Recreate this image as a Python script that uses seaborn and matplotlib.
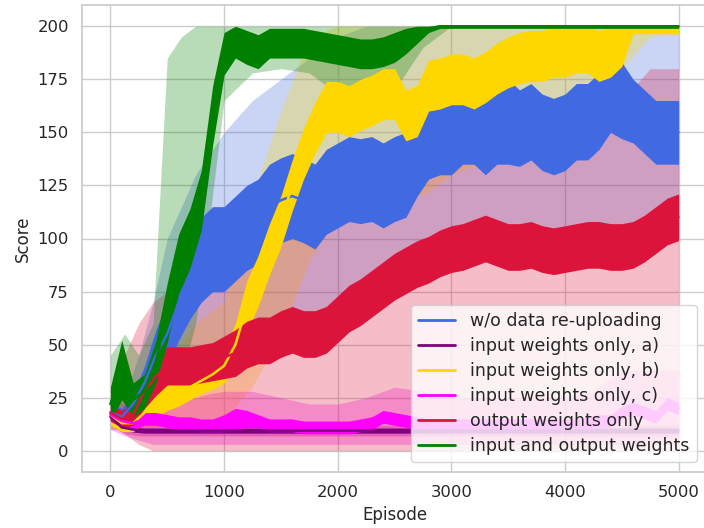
import numpy as np
import matplotlib
matplotlib.use("Agg")
import matplotlib.pyplot as plt
import seaborn as sns

# ---------------- data ----------------
episodes = list(range(0, 5001, 100))          # 51 points for the mean curves
band_episodes = [0, 125, 250, 375, 500, 625, 750, 875, 1000, 1250, 1500, 1750, 2000,
                 2250, 2500, 2750, 3000, 3250, 3500, 3750, 4000, 4250, 4500, 4750, 5000]

labels = ["w/o data re-uploading", "input weights only, a)", "input weights only, b)",
          "input weights only, c)", "output weights only", "input and output weights"]

blue_mean = [18, 16, 22, 32, 45, 55, 70, 82, 90, 95, 95, 100, 105, 108, 115, 118, 120, 118, 115, 122,
             125, 128, 127, 128, 125, 128, 130, 140, 148, 150, 150, 155, 155, 150, 155, 155, 152, 155, 150, 148,
             150, 155, 155, 160, 168, 165, 160, 155, 150, 150, 150]
purple_mean = [16, 11, 10] + [9.5] * 48
yellow_mean = [17, 13, 13, 18, 22, 25, 27, 30, 33, 36, 40, 50, 68, 80, 95, 108, 125, 140, 152, 162,
               162, 160, 163, 165, 168, 168, 158, 160, 172, 173, 175, 175, 173, 176, 180, 183, 185, 186, 186, 188,
               188, 190, 190, 186, 188, 193, 198, 198, 198, 198, 198]
magenta_mean = [17, 14, 13, 15, 15, 14, 13, 13, 12, 12, 13, 15, 15, 14, 12, 12, 12, 11, 11, 11,
                11, 11, 12, 13, 16, 15, 14, 13, 12, 12, 12, 12, 12, 12, 12, 12, 12, 12, 12, 12,
                12, 12, 13, 14, 14, 18, 20, 18, 16, 22, 20]
red_mean = [18, 15, 17, 28, 35, 40, 40, 40, 41, 42, 44, 46, 50, 52, 52, 55, 57, 55, 55, 57,
            62, 67, 70, 74, 78, 82, 85, 88, 90, 93, 95, 96, 98, 100, 98, 96, 96, 97, 95, 94,
            95, 96, 97, 97, 96, 96, 97, 100, 104, 108, 110]
green_mean = [22, 38, 24, 28, 42, 65, 88, 100, 118, 158, 187, 193, 190, 188, 192, 192, 192, 192, 191, 190,
              189, 188, 187, 187, 188, 190, 193, 196, 199, 200] + [200] * 21

# half-width of the episode-to-episode noise around each mean curve
blue_noise = [4, 4, 5, 8, 12, 15, 18, 20, 20, 20, 20] + [20] * 25 + [18] * 10 + [15] * 5
purple_noise = [1.2] * 51
yellow_noise = [5, 4, 4, 5, 6, 6, 6, 6, 6, 7, 8, 10, 12, 12, 12, 12, 12, 12, 12, 12] + [12] * 26 + [1.5] * 5
magenta_noise = [3, 3, 3, 3, 3, 3, 3, 3, 3, 3, 4, 5, 4, 3, 3, 3, 3, 3, 3, 3] + [3] * 31
red_noise = [4, 4, 5, 8, 9, 9, 9, 9, 9, 9, 10] + [11] * 40
green_noise = [8, 14, 8, 8, 10, 14, 14, 14, 14, 14, 10, 8, 8, 8, 7, 7, 7, 7, 7, 7,
               7, 7, 7, 7, 7, 7, 6, 4, 2, 1] + [1] * 21

# shaded spread across runs (lower / upper), on band_episodes
blue_lo = [10, 10, 12, 15, 20, 28, 35, 40, 45, 55, 60, 65, 70, 75, 80, 90, 95, 100, 100, 100, 100, 105, 105, 100, 100]
blue_hi = [25, 25, 45, 70, 100, 115, 130, 140, 150, 165, 175, 185, 195] + [200] * 12
purple_lo = [12, 8] + [7] * 23
purple_hi = [20, 15] + [12] * 23
yellow_lo = [10, 10, 10, 11, 12, 13, 15, 15, 15, 30, 55, 90, 110, 120, 125, 120, 130, 135, 140, 145, 150, 150, 180, 195, 196]
yellow_hi = [25, 25, 25, 32, 40, 50, 60, 65, 70, 120, 160, 195] + [200] * 13
magenta_lo = [10, 7, 5] + [3] * 22
magenta_hi = [25, 22, 22, 24, 25, 25, 25, 27, 28, 28, 25, 22, 22, 25, 30, 28, 25, 25, 25, 25, 25, 28, 38, 38, 38]
red_lo = [12, 8, 3] + [0] * 22
red_hi = [25, 45, 60, 70, 75, 78, 80, 82, 85, 100, 110, 110, 120, 130, 145, 150, 160, 165, 165, 160, 160, 165, 165, 180, 180]
green_lo = [12, 15, 12, 15, 20, 35, 60, 110, 165, 178, 180, 178, 168, 165, 170, 190] + [200] * 9
green_hi = [45, 55, 45, 60, 185, 195] + [200] * 19

colors = ["#4169E1", "#800080", "#FFD700", "#FF00FF", "#DC143C", "#008000"]

means = [blue_mean, purple_mean, yellow_mean, magenta_mean, red_mean, green_mean]
noises = [blue_noise, purple_noise, yellow_noise, magenta_noise, red_noise, green_noise]
los = [blue_lo, purple_lo, yellow_lo, magenta_lo, red_lo, green_lo]
his = [blue_hi, purple_hi, yellow_hi, magenta_hi, red_hi, green_hi]

# ---------------- plot ----------------
sns.set_theme(style="whitegrid", context="notebook")
plt.rcParams["font.family"] = ["DejaVu Sans"]

fig = plt.figure(figsize=(7.04, 5.28), dpi=100)
ax = fig.add_axes([82 / 704, (528 - 472) / 528, (707 - 82) / 704, (472 - 5) / 528])

ep = np.array(episodes)
bep = np.array(band_episodes)

for lo, hi, c in zip(los, his, colors):
    ax.fill_between(bep, lo, hi, color=c, alpha=0.28, linewidth=0, zorder=1)

for m, n, c, lab in zip(means, noises, colors, labels):
    m = np.array(m, dtype=float)
    n = np.array(n, dtype=float)
    ax.fill_between(ep, np.clip(m - n, 0, 200), np.clip(m + n, 0, 200), color=c, linewidth=0, zorder=2)
    sns.lineplot(x=ep, y=m, color=c, linewidth=1.8, label=lab, ax=ax, zorder=3)

ax.set_xlim(-250, 5250)
ax.set_ylim(-10, 210)
ax.set_xticks(range(0, 5001, 1000))
ax.set_yticks(range(0, 201, 25))
ax.tick_params(labelsize=11.8)
ax.set_xlabel("Episode", fontsize=12)
ax.set_ylabel("Score", fontsize=12)

leg = ax.legend(loc="lower right", fontsize=12.5, framealpha=0.8, labelspacing=0.4,
                handlelength=2.1, handletextpad=0.9, borderaxespad=0.6)
for line in leg.get_lines():
    line.set_linewidth(2.0)

fig.savefig("out.png", dpi=100)
